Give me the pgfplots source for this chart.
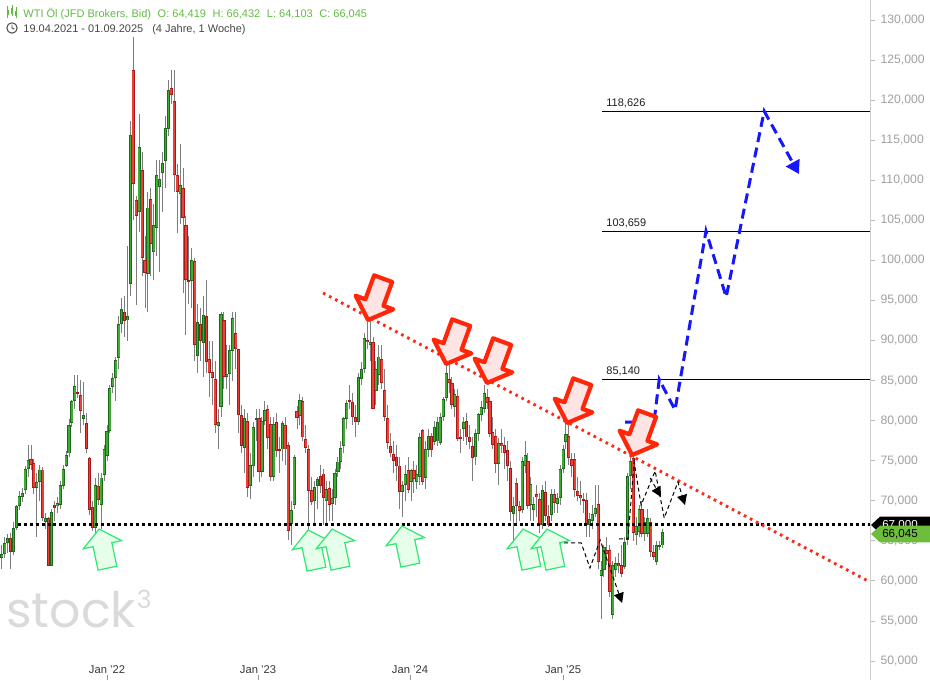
\documentclass[border=0pt]{standalone}
\usepackage{fontspec}
\setmainfont{Liberation Sans}
\newfontfamily\wmfont{Poppins}
\usepackage{pgfplots}
\pgfplotsset{compat=1.18}
\usepackage{pgfplotstable}
\usetikzlibrary{arrows.meta}

\definecolor{upfill}{RGB}{62,172,50}
\definecolor{upline}{RGB}{28,105,28}
\definecolor{dnfill}{RGB}{238,62,56}
\definecolor{dnline}{RGB}{168,24,24}
\definecolor{wick}{RGB}{125,125,125}
\definecolor{trendred}{RGB}{255,40,20}
\definecolor{arrred}{RGB}{255,38,10}
\definecolor{arrfill}{RGB}{255,228,228}
\definecolor{garr}{RGB}{45,232,110}
\definecolor{garrfill}{RGB}{230,255,235}
\definecolor{pathblue}{RGB}{22,22,255}
\definecolor{taggreen}{RGB}{108,190,60}
\definecolor{headgreen}{RGB}{98,186,68}
\definecolor{axgray}{RGB}{160,160,160}
\definecolor{wmgray}{RGB}{218,218,218}
\definecolor{axline}{RGB}{205,205,205}
\definecolor{xtickc}{RGB}{150,150,150}
\definecolor{ytickc}{RGB}{190,190,190}
\definecolor{xlabc}{RGB}{55,55,55}
\definecolor{lvlc}{RGB}{30,30,30}
\definecolor{clockc}{RGB}{70,70,70}

\pgfplotstableread{
i o h l c
0 63.0 63.8 60.5 61.8
1 62.8 64.5 61.5 63.4
2 63.4 65.5 62.8 64.7
3 64.7 65.8 63.5 65.3
4 65.3 66.0 61.5 63.6
5 63.6 67.3 63.2 66.6
6 66.6 69.5 66.3 69.3
7 69.3 71.2 68.8 70.6
8 70.5 71.6 69.8 71.0
9 71.3 74.4 70.8 74.0
10 74.0 76.9 73.0 75.1
11 75.2 77.0 73.8 74.5
12 74.7 75.2 70.9 71.6
13 71.6 73.5 65.5 72.4
14 72.4 74.5 70.0 73.9
15 73.9 74.2 67.5 67.9
16 67.3 68.5 66.5 67.9
17 67.8 68.0 61.8 61.9
18 61.9 69.0 61.8 68.6
19 69.5 70.0 67.5 69.1
20 69.3 70.5 68.5 69.7
21 69.5 72.5 69.0 72.0
22 71.9 74.5 71.5 74.0
23 74.4 76.2 74.2 75.7
24 75.9 80.2 75.5 79.5
25 79.7 82.6 79.2 82.4
26 82.4 85.7 81.5 84.3
27 83.5 85.7 82.8 83.4
28 83.2 85.1 78.4 81.2
29 80.2 84.8 79.5 80.7
30 79.7 81.0 76.0 76.5
31 75.3 75.5 68.2 68.8
32 69.2 70.0 66.2 66.6
33 66.6 72.8 66.0 72.0
34 71.8 73.5 69.5 70.1
35 69.5 73.5 66.5 72.9
36 73.2 77.0 72.5 76.5
37 75.6 79.5 75.0 78.7
38 78.7 84.5 78.5 84.1
39 84.2 86.0 83.5 85.3
40 85.3 88.0 82.4 87.6
41 87.8 93.0 86.5 92.1
42 92.1 95.3 91.0 93.9
43 93.5 95.5 90.5 92.4
44 92.5 101.8 90.0 93.1
45 97.1 117.4 95.5 115.7
46 123.8 127.9 105.0 109.5
47 107.5 108.0 94.4 105.5
48 106.1 118.3 103.5 114.1
49 111.3 113.5 98.0 100.3
50 100.1 103.0 94.0 98.4
51 98.3 108.5 93.5 106.6
52 107.7 109.0 98.0 102.0
53 101.1 107.0 97.5 104.4
54 104.1 112.5 100.5 110.7
55 109.2 112.5 98.5 110.2
56 110.9 113.5 106.0 112.2
57 112.4 118.0 109.0 116.5
58 116.4 122.5 115.5 121.3
59 121.5 123.7 119.5 120.7
60 119.9 123.8 108.5 110.7
61 110.7 112.0 103.4 108.5
62 108.3 114.5 104.5 109.4
63 109.0 111.5 95.9 105.3
64 104.4 105.5 90.7 97.5
65 97.5 103.0 94.5 97.4
66 97.4 101.5 94.0 100.0
67 99.9 100.3 87.5 89.5
68 88.1 94.5 86.0 92.3
69 92.1 94.0 87.5 89.9
70 89.7 95.5 85.5 93.2
71 93.1 97.5 86.0 87.3
72 87.7 90.0 83.0 86.0
73 86.1 90.0 82.0 85.3
74 85.2 87.5 78.5 79.5
75 79.3 81.5 76.5 79.8
76 81.7 93.6 80.5 93.3
77 92.6 93.5 84.0 85.5
78 85.5 89.5 84.0 85.8
79 85.8 89.5 82.0 88.8
80 88.7 93.5 85.0 92.8
81 90.9 93.5 86.5 88.9
82 88.9 89.0 78.5 80.7
83 80.7 82.0 76.0 76.8
84 76.6 81.5 73.5 80.3
85 80.0 81.0 70.5 71.6
86 71.8 76.0 70.2 74.5
87 74.3 79.8 73.0 79.2
88 80.2 81.5 77.5 80.3
89 80.3 81.5 72.4 73.6
90 73.6 80.5 73.0 80.0
91 80.0 82.5 79.5 81.3
92 81.5 82.0 76.5 77.8
93 79.6 80.5 72.5 73.0
94 73.0 80.5 72.5 79.6
95 79.8 81.0 75.5 76.2
96 76.4 78.0 73.5 76.2
97 76.4 80.0 75.0 79.7
98 79.5 80.5 74.5 76.4
99 77.0 77.3 65.1 66.2
100 67.1 70.0 64.5 68.9
101 69.5 75.7 69.0 75.5
102 81.2 81.8 79.0 80.3
103 80.6 83.3 79.5 82.6
104 82.5 83.0 77.5 77.9
105 77.7 79.5 76.0 76.6
106 76.4 77.0 63.7 71.2
107 71.4 73.0 69.5 69.8
108 70.0 72.5 67.0 71.7
109 71.8 73.0 69.0 72.7
110 73.1 74.5 71.0 71.8
111 73.4 74.0 67.0 70.3
112 70.0 72.5 67.0 71.5
113 71.6 72.5 67.5 69.5
114 69.6 71.5 67.5 70.3
115 70.4 74.0 69.5 73.5
116 73.6 75.5 73.0 74.9
117 74.9 77.5 74.0 76.6
118 76.8 80.5 76.0 80.3
119 80.2 82.6 79.0 82.2
120 82.6 84.5 81.5 82.4
121 82.3 83.5 79.5 80.5
122 80.4 82.0 78.0 79.8
123 79.8 86.0 79.5 85.5
124 85.2 87.3 84.5 86.5
125 86.5 91.0 86.0 90.3
126 90.1 93.5 89.0 89.8
127 89.5 92.5 87.5 89.8
128 89.8 90.5 81.5 81.5
129 83.7 87.5 82.0 86.4
130 85.7 89.5 84.5 88.0
131 87.7 89.5 84.0 84.7
132 83.8 86.5 80.0 80.4
133 80.3 82.0 76.5 77.2
134 76.8 78.5 75.5 75.9
135 75.8 77.5 73.5 75.0
136 75.5 77.0 72.5 74.4
137 74.4 75.5 69.0 71.1
138 71.1 72.5 68.0 72.0
139 72.0 74.5 70.0 73.3
140 73.8 75.5 71.0 71.3
141 72.4 74.0 70.0 73.8
142 73.8 75.0 71.0 72.7
143 72.4 74.5 71.5 73.3
144 73.0 78.5 72.0 78.0
145 78.8 79.0 72.0 72.3
146 72.8 77.5 71.5 76.5
147 76.3 79.0 75.5 78.1
148 78.1 78.5 75.5 76.3
149 77.3 80.0 77.0 79.2
150 77.4 80.5 76.8 79.8
151 77.2 81.0 77.0 80.4
152 80.4 83.0 80.0 82.7
153 82.8 87.2 82.5 86.0
154 85.2 86.9 83.5 84.7
155 84.7 85.5 81.5 82.0
156 81.7 84.0 80.5 83.3
157 83.1 84.0 77.5 77.7
158 77.9 79.0 76.0 77.8
159 79.0 80.5 77.5 79.8
160 80.0 81.0 77.0 77.9
161 78.0 79.5 76.5 77.3
162 76.8 78.0 72.5 75.4
163 75.4 79.0 74.5 78.4
164 78.3 81.0 77.5 80.8
165 80.7 82.5 80.0 81.7
166 81.5 84.5 81.0 83.4
167 82.9 84.0 81.5 82.2
168 82.4 83.0 78.0 78.3
169 78.6 80.5 76.5 77.0
170 78.1 79.0 73.5 74.6
171 74.6 77.8 72.0 77.2
172 77.2 79.0 76.0 76.8
173 76.9 78.0 74.0 76.0
174 76.3 77.5 72.5 74.4
175 74.1 75.0 67.5 68.6
176 68.4 70.5 65.0 69.3
177 72.2 72.8 67.0 69.4
178 69.3 70.0 67.5 68.7
179 68.9 75.5 68.5 75.0
180 74.4 77.5 73.5 75.7
181 75.0 76.0 69.0 69.4
182 69.5 73.0 67.5 72.1
183 68.9 70.5 67.5 69.6
184 70.8 72.0 68.0 70.5
185 70.2 71.0 66.0 67.0
186 67.0 72.0 66.5 71.3
187 71.1 72.5 67.5 68.1
188 68.1 69.5 66.7 67.0
189 68.2 71.5 67.5 70.8
190 70.8 71.5 68.5 69.7
191 69.6 71.0 68.5 70.3
192 70.3 74.5 69.5 74.0
193 74.0 77.0 73.5 76.5
194 77.3 79.8 76.5 78.3
195 78.1 79.5 74.5 75.3
196 75.2 76.0 73.0 74.3
197 75.2 76.0 70.5 71.3
198 71.2 73.0 70.0 70.6
199 70.7 72.5 69.5 70.3
200 70.2 71.0 68.5 70.1
201 70.1 71.0 65.5 67.0
202 67.0 68.5 65.5 67.7
203 67.5 69.5 66.5 68.4
204 68.4 72.0 68.0 69.1
205 69.6 72.0 61.5 62.3
206 60.6 62.5 55.3 61.4
207 61.4 64.5 60.5 64.2
208 63.9 65.5 62.0 63.4
209 63.9 64.5 58.0 58.6
210 55.7 62.5 55.3 62.0
211 61.4 63.0 60.5 62.2
212 62.2 63.5 61.0 61.8
213 62.0 64.5 60.5 60.9
214 61.7 65.5 61.5 64.8
215 65.1 73.5 64.5 73.1
216 73.1 76.5 71.5 75.0
217 75.3 77.0 65.0 66.0
218 65.7 68.0 64.5 66.9
219 66.1 69.5 65.5 69.0
220 69.0 70.0 65.5 65.9
221 65.9 68.0 65.0 67.3
222 65.9 69.0 65.5 67.9
223 67.3 67.8 63.0 63.6
224 63.6 64.5 62.6 63.0
225 62.4 65.0 62.0 64.5
226 64.35 65.0 63.8 64.48
227 64.42 66.43 64.10 66.05
}\oil

\newcommand{\redarrow}[2]{%
  \filldraw[shift={(axis cs:#1,#2)}, rotate=-20, draw=arrred, fill=arrfill, line width=2.1pt, line join=round]
    (0pt,0pt) -- (10pt,9.3pt) -- (4.8pt,9.3pt) -- (4.8pt,22pt) -- (-4.8pt,22pt) -- (-4.8pt,9.3pt) -- (-10pt,9.3pt) -- cycle;}
\newcommand{\greenarrow}[2]{%
  \filldraw[shift={(axis cs:#1,#2)}, rotate=12, draw=garr, fill=garrfill, line width=0.6pt, line join=miter]
    (0pt,0pt) -- (9.8pt,-8pt) -- (4.8pt,-8pt) -- (4.8pt,-20pt) -- (-4.8pt,-20pt) -- (-4.8pt,-8pt) -- (-9.8pt,-8pt) -- cycle;}

\begin{document}
\begin{tikzpicture}
% watermark
\node[anchor=base west, inner sep=0pt, text=wmgray] at (3pt,26.5pt)
  {\wmfont\fontsize{24.5}{24.5}\selectfont stock\hspace{0.4pt}\raisebox{9.5pt}{\fontsize{12.5}{12.5}\selectfont 3}};

\begin{axis}[
  at={(0pt,0pt)}, anchor=south west,
  width=435pt, height=340pt, scale only axis,
  xmin=0.39, xmax=298, ymin=47.63, ymax=132.5,
  clip=false,
  axis line style={-},
  axis x line*=bottom, axis y line*=right,
  x axis line style={draw=none},
  y axis line style={draw=axline, line width=0.5pt},
  tick align=outside,
  major tick length=2.3pt,
  xtick={37,88.66,140.66,193},
  xticklabels={Jan '22,Jan '23,Jan '24,Jan '25},
  xtick style={draw=xtickc, line width=0.4pt, yshift=2.3pt},
  xticklabel style={anchor=south, inner sep=0pt, yshift=5.4pt, font=\fontsize{5.6}{6.5}\selectfont, text=xlabc},
  ytick={50,55,60,65,70,75,80,85,90,95,100,105,110,115,120,125,130},
  yticklabels={{50,000},{55,000},{60,000},{65,000},{70,000},{75,000},{80,000},{85,000},{90,000},{95,000},{100,000},{105,000},{110,000},{115,000},{120,000},{125,000},{130,000}},
  ytick style={draw=ytickc, line width=0.4pt},
  yticklabel style={anchor=west, inner sep=0pt, xshift=2.8pt, font=\fontsize{6.1}{7}\selectfont, text=axgray},
]
% wicks
\addplot[draw=none, mark=none, forget plot, error bars/.cd, y dir=both, y explicit, error mark=none,
  error bar style={draw=wick, line width=0.5pt}]
  table[x=i, y expr={(\thisrow{h}+\thisrow{l})/2}, y error expr={(\thisrow{h}-\thisrow{l})/2}] {\oil};
% up bodies
\addplot[draw=none, mark=none, forget plot, restrict expr to domain={\thisrow{c}-\thisrow{o}}{0:100},
  error bars/.cd, y dir=both, y explicit, error mark=none,
  error bar style={draw=upline, line width=1.55pt}]
  table[x=i, y expr={(\thisrow{o}+\thisrow{c})/2}, y error expr={max(abs(\thisrow{c}-\thisrow{o})/2,0.1)}] {\oil};
\addplot[draw=none, mark=none, forget plot, restrict expr to domain={\thisrow{c}-\thisrow{o}}{0:100},
  error bars/.cd, y dir=both, y explicit, error mark=none,
  error bar style={draw=upfill, line width=0.85pt}]
  table[x=i, y expr={(\thisrow{o}+\thisrow{c})/2}, y error expr={max(abs(\thisrow{c}-\thisrow{o})/2-0.12,0.0)}] {\oil};
% down bodies
\addplot[draw=none, mark=none, forget plot, restrict expr to domain={\thisrow{o}-\thisrow{c}}{0.00001:100},
  error bars/.cd, y dir=both, y explicit, error mark=none,
  error bar style={draw=dnline, line width=1.55pt}]
  table[x=i, y expr={(\thisrow{o}+\thisrow{c})/2}, y error expr={max(abs(\thisrow{c}-\thisrow{o})/2,0.1)}] {\oil};
\addplot[draw=none, mark=none, forget plot, restrict expr to domain={\thisrow{o}-\thisrow{c}}{0.00001:100},
  error bars/.cd, y dir=both, y explicit, error mark=none,
  error bar style={draw=dnfill, line width=0.85pt}]
  table[x=i, y expr={(\thisrow{o}+\thisrow{c})/2}, y error expr={max(abs(\thisrow{c}-\thisrow{o})/2-0.12,0.0)}] {\oil};

% support line 67,000
\draw[black, line width=1.45pt, dash pattern=on 1.5pt off 1.45pt] (axis cs:6.55,67) -- (axis cs:298,67);
% falling trend line
\draw[trendred, line width=1.45pt, dash pattern=on 1.3pt off 2.1pt] (axis cs:110.9,95.93) -- (axis cs:298,59.86);
% target levels
\draw[black, line width=0.55pt] (axis cs:206.3,118.626) -- (axis cs:298,118.626);
\draw[black, line width=0.55pt] (axis cs:206.3,103.659) -- (axis cs:298,103.659);
\draw[black, line width=0.55pt] (axis cs:206.3,85.14) -- (axis cs:298,85.14);
\node[anchor=base west, inner sep=0pt, font=\fontsize{5.5}{6.5}\selectfont, text=lvlc] at (axis cs:207.7,119.2) {118,626};
\node[anchor=base west, inner sep=0pt, font=\fontsize{5.5}{6.5}\selectfont, text=lvlc] at (axis cs:207.7,104.2) {103,659};
\node[anchor=base west, inner sep=0pt, font=\fontsize{5.5}{6.5}\selectfont, text=lvlc] at (axis cs:207.7,85.7) {85,140};

% black dashed scenarios
\draw[black, line width=0.5pt, dash pattern=on 2pt off 1.5pt, -{Triangle[length=5pt,width=5pt]}]
  (axis cs:188.6,64.73) -- (axis cs:199.2,64.73) -- (axis cs:202.2,61.61) -- (axis cs:205.7,65.1) -- (axis cs:213.2,57.24);
\draw[black, line width=0.5pt, dash pattern=on 2pt off 1.5pt, -{Triangle[length=5pt,width=5pt]}]
  (axis cs:212.2,65.23) -- (axis cs:215.2,65.23) -- (axis cs:217.3,74.84) -- (axis cs:219.7,69.47) -- (axis cs:224.5,73.71) -- (axis cs:227.6,67.85) -- (axis cs:232.3,72.34) -- (axis cs:234.7,69.47);
\draw[black, line width=0.5pt, dash pattern=on 2pt off 1.5pt, -{Triangle[length=5pt,width=5pt]}]
  (axis cs:222.8,72.84) -- (axis cs:226.5,70.47);

% blue projected path
\draw[pathblue, line width=1.5pt, dash pattern=on 5pt off 2.8pt, line join=miter, -{Triangle[length=6.5pt,width=7.5pt]}]
  (axis cs:214.2,79.83) -- (axis cs:224.1,79.83) -- (axis cs:225.9,85.14) -- (axis cs:231.3,81.33) -- (axis cs:241.9,103.659) -- (axis cs:248.8,95.43) -- (axis cs:261.8,118.626) -- (axis cs:273.7,110.78);

% red resistance arrows
\redarrow{126.3}{92.56}
\redarrow{153.0}{87.07}
\redarrow{167.0}{84.70}
\redarrow{194.4}{79.70}
\redarrow{216.6}{75.71}
% green support arrows
\greenarrow{34.3}{66.47}
\greenarrow{105.8}{66.35}
\greenarrow{114.0}{66.47}
\greenarrow{137.9}{66.85}
\greenarrow{179.3}{66.47}
\greenarrow{187.5}{66.47}
\end{axis}

% price tags on the right
\fill[black] (435.5pt,77.5pt) -- (440pt,81.7pt) -- (465pt,81.7pt) -- (465pt,73.3pt) -- (440pt,73.3pt) -- cycle;
\node[text=white, inner sep=0pt, font=\fontsize{5.8}{7}\selectfont] at (450pt,77.5pt) {67,000};
\fill[taggreen] (435.5pt,73pt) -- (440pt,77.2pt) -- (465pt,77.2pt) -- (465pt,68.8pt) -- (440pt,68.8pt) -- cycle;
\node[text=black, inner sep=0pt, font=\fontsize{5.8}{7}\selectfont] at (450pt,73pt) {66,045};

% header
\foreach \xx/\bt/\bb/\wt/\wb in {3.9/335/332.5/337/331, 6/336/333/337.5/332, 8.1/334.5/332/336.5/331}{
  \draw[headgreen, line width=0.4pt] (\xx pt,\wb pt) -- (\xx pt,\wt pt);
  \fill[headgreen] (\xx pt-0.6pt,\bb pt) rectangle (\xx pt+0.6pt,\bt pt);
}
\node[anchor=base west, inner sep=0pt, text=headgreen, font=\fontsize{5.5}{6.5}\selectfont] at (11.5pt,331.2pt)
  {WTI Öl (JFD Brokers, Bid)\hspace{3.3pt}O: 64,419\hspace{3.3pt}H: 66,432\hspace{3.3pt}L: 64,103\hspace{3.3pt}C: 66,045};
\draw[clockc, line width=0.5pt] (6pt,326pt) circle (2.6pt);
\draw[clockc, line width=0.45pt] (6pt,327.7pt) -- (6pt,326pt) -- (7.2pt,325.4pt);
\node[anchor=base west, inner sep=0pt, text=clockc, font=\fontsize{5.5}{6.5}\selectfont] at (11.5pt,323.6pt)
  {19.04.2021 - 01.09.2025\hspace{4.5pt}(4 Jahre, 1 Woche)};

\pgfresetboundingbox
\path[use as bounding box] (0pt,0pt) rectangle (465pt,340pt);
\end{tikzpicture}
\end{document}
